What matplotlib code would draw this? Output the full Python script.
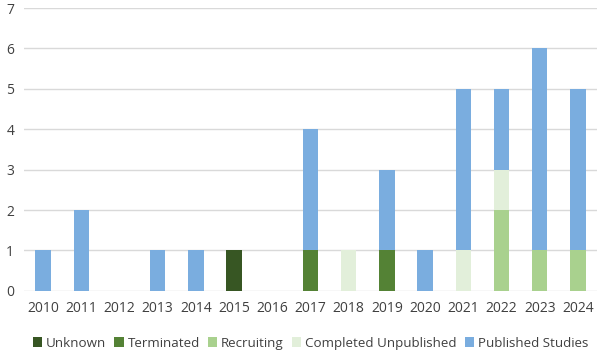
import matplotlib.pyplot as plt
import numpy as np

years = [str(y) for y in range(2010, 2025)]
unknown = [0, 0, 0, 0, 0, 1, 0, 0, 0, 0, 0, 0, 0, 0, 0]
terminated = [0, 0, 0, 0, 0, 0, 0, 1, 0, 1, 0, 0, 0, 0, 0]
recruiting = [0, 0, 0, 0, 0, 0, 0, 0, 0, 0, 0, 0, 2, 1, 1]
completed_unpub = [0, 0, 0, 0, 0, 0, 0, 0, 1, 0, 0, 1, 1, 0, 0]
published = [1, 2, 0, 1, 1, 0, 0, 3, 0, 2, 1, 4, 2, 5, 4]

series = [
    ("Unknown", unknown, "#375623"),
    ("Terminated", terminated, "#548235"),
    ("Recruiting", recruiting, "#a9d18e"),
    ("Completed Unpublished", completed_unpub, "#e2efda"),
    ("Published Studies", published, "#7aaddf"),
]

plt.rcParams["font.family"] = ["Open Sans", "DejaVu Sans"]

fig = plt.figure(figsize=(6, 3.5), dpi=100)
ax = fig.add_axes((0.04, 0.169, 0.955, 0.808))

x = np.arange(len(years))
bottom = np.zeros(len(years))
for name, vals, color in series:
    vals = np.array(vals, dtype=float)
    ax.bar(x, vals, width=0.4, bottom=bottom, color=color, label=name, zorder=3)
    bottom += vals

ax.set_xlim(-0.5, len(years) - 0.5)
ax.set_ylim(0, 7)
ax.set_yticks(range(0, 8))
ax.set_xticks(x)
ax.set_xticklabels(years)
ax.yaxis.grid(True, color="#d9d9d9", linewidth=1, zorder=0)
for s in ax.spines.values():
    s.set_visible(False)
ax.tick_params(length=0, labelsize=10, colors="#404040")
ax.tick_params(axis="x", pad=7)
ax.tick_params(axis="y", pad=7)

ax.legend(loc="upper center", bbox_to_anchor=(0.5, -0.12), ncol=5, frameon=False,
          fontsize=9.6, labelcolor="#404040", handlelength=0.7, handleheight=0.7,
          handletextpad=0.3, columnspacing=0.6)

fig.savefig("out.png", dpi=100)
